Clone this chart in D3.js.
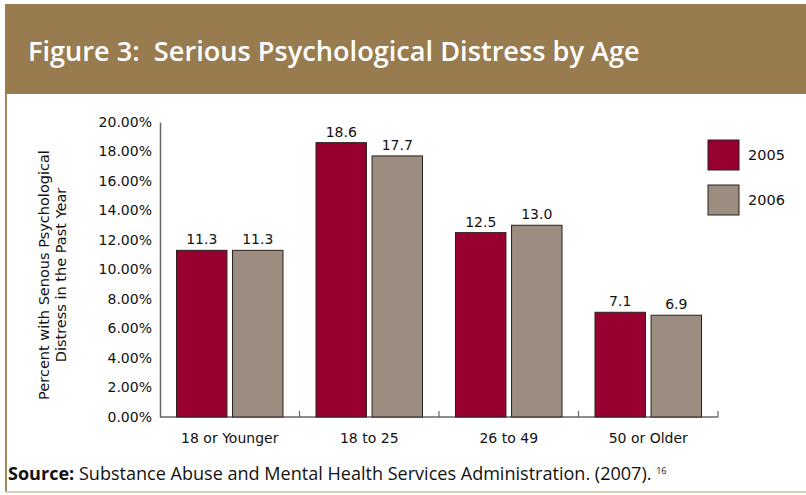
<!DOCTYPE html>
<html>
<head>
<meta charset="utf-8">
<script src="https://cdn.jsdelivr.net/npm/d3@7"></script>
<style>
  html, body { margin: 0; padding: 0; background: #fff; }
  svg { display: block; }
</style>
</head>
<body>
<svg id="chart" width="806" height="495"></svg>
<script>
// Serious psychological distress in the past year, by age group
const categories = ["18 or Younger", "18 to 25", "26 to 49", "50 or Older"];
const years = ["2005", "2006"];
const values2005 = [11.3, 18.6, 12.5, 7.1];
const values2006 = [11.3, 17.7, 13.0, 6.9];
const yTicks = [0, 2, 4, 6, 8, 10, 12, 14, 16, 18, 20];

const colors = { "2005": "#98002f", "2006": "#9b8e80" };
const brown = "#987c4f";

const svg = d3.select("#chart");
const W = 806, H = 495;

// Frame: header band, left rule, bottom rule
svg.append("rect").attr("x", 5).attr("y", 4).attr("width", W - 5).attr("height", 90).attr("fill", brown);
svg.append("rect").attr("x", 5).attr("y", 94).attr("width", 2).attr("height", 398).attr("fill", "#a4895c");
svg.append("rect").attr("x", 5).attr("y", 491).attr("width", W - 5).attr("height", 2).attr("fill", "#dacbb1");

// Fit a text element's font size so it spans a given width
function fitWidth(sel, target) {
  const fs = parseFloat(sel.attr("font-size"));
  const w = sel.node().getComputedTextLength();
  sel.attr("font-size", (fs * target / w).toFixed(2));
}

const title = svg.append("text")
  .attr("x", 28).attr("y", 61)
  .attr("font-family", "'Open Sans', 'Noto Sans', sans-serif")
  .attr("font-weight", 600)
  .attr("font-size", 24)
  .attr("fill", "#fff")
  .attr("xml:space", "preserve")
  .text("Figure 3:  Serious Psychological Distress by Age");
fitWidth(title, 612);

// Plot scales
const x0 = d3.scaleBand().domain(categories).range([160, 718]).paddingInner(0).paddingOuter(0);
const x1 = d3.scaleBand().domain(years).range([16.5, x0.bandwidth() - 16.5]).paddingInner(0.1);
const y = d3.scaleLinear().domain([0, 20]).range([417, 122]);

const font = "'DejaVu Sans', Verdana, sans-serif";

// Y axis: line and percentage labels, no tick marks
const yAxis = svg.append("g").attr("transform", "translate(160,0)")
  .call(d3.axisLeft(y).tickValues(yTicks).tickSize(0).tickPadding(8)
    .tickFormat(d => d3.format(".2f")(d) + "%"));
yAxis.select(".domain").attr("stroke", "#666").attr("stroke-width", 1.5);
yAxis.selectAll("text").attr("font-family", font).attr("font-size", 14).attr("fill", "#111");

// X axis with short inward ticks at group boundaries
const xg = svg.append("g").attr("transform", "translate(0,417)");
xg.append("line").attr("x1", 160).attr("x2", 718).attr("y1", 0).attr("y2", 0)
  .attr("stroke", "#666").attr("stroke-width", 1.5);
xg.selectAll("line.tick")
  .data(categories.slice(1).map(c => x0(c)).concat([718]))
  .join("line").attr("class", "tick")
  .attr("x1", d => d).attr("x2", d => d).attr("y1", 0).attr("y2", -6)
  .attr("stroke", "#666").attr("stroke-width", 1.2);
xg.selectAll("text.cat")
  .data(categories)
  .join("text").attr("class", "cat")
  .attr("x", d => x0(d) + x0.bandwidth() / 2)
  .attr("y", 26)
  .attr("text-anchor", "middle")
  .attr("font-family", font).attr("font-size", 14).attr("fill", "#111")
  .text(d => d);

// Bars and value labels
const rows = categories.map((c, i) => ({
  cat: c,
  vals: [{ year: "2005", v: values2005[i] }, { year: "2006", v: values2006[i] }]
}));
const groups = svg.selectAll("g.grp").data(rows).join("g")
  .attr("class", "grp")
  .attr("transform", d => `translate(${x0(d.cat)},0)`);
groups.selectAll("rect").data(d => d.vals).join("rect")
  .attr("x", d => x1(d.year))
  .attr("y", d => y(d.v))
  .attr("width", x1.bandwidth())
  .attr("height", d => y(0) - y(d.v))
  .attr("fill", d => colors[d.year])
  .attr("stroke", "#2a2020").attr("stroke-width", 1);
groups.selectAll("text").data(d => d.vals).join("text")
  .attr("x", d => x1(d.year) + x1.bandwidth() / 2)
  .attr("y", d => y(d.v) - 6)
  .attr("text-anchor", "middle")
  .attr("font-family", font).attr("font-size", 14).attr("fill", "#111")
  .text(d => d3.format(".1f")(d.v));

// Y axis title (two rotated lines)
const yt = svg.append("text")
  .attr("transform", "translate(44,275) rotate(-90)")
  .attr("text-anchor", "middle")
  .attr("font-family", font).attr("font-size", 14.5).attr("fill", "#111");
yt.append("tspan").attr("x", 0).attr("dy", "0.35em").text("Percent with Senous Psychological");
yt.append("tspan").attr("x", 0).attr("dy", "1.2em").text("Distress in the Past Year");

// Legend
const legend = svg.append("g");
years.forEach((yr, i) => {
  legend.append("rect")
    .attr("x", 708).attr("y", 140 + i * 45)
    .attr("width", 31).attr("height", 30)
    .attr("fill", colors[yr]).attr("stroke", "#2a2020").attr("stroke-width", 1);
  legend.append("text")
    .attr("x", 748).attr("y", 155 + i * 45).attr("dy", "0.35em")
    .attr("font-family", font).attr("font-size", 14.5).attr("fill", "#111")
    .text(yr);
});

// Source note
const src = svg.append("text")
  .attr("x", 8).attr("y", 480)
  .attr("font-family", "'Open Sans', 'Noto Sans', sans-serif")
  .attr("font-size", 15).attr("fill", "#111");
src.append("tspan").attr("font-weight", 700).text("Source:");
src.append("tspan").text(" Substance Abuse and Mental Health Services Administration. (2007). ");
fitWidth(src, 644);
src.append("tspan").attr("font-size", 9).attr("dy", -6).text("16");
</script>
</body>
</html>
